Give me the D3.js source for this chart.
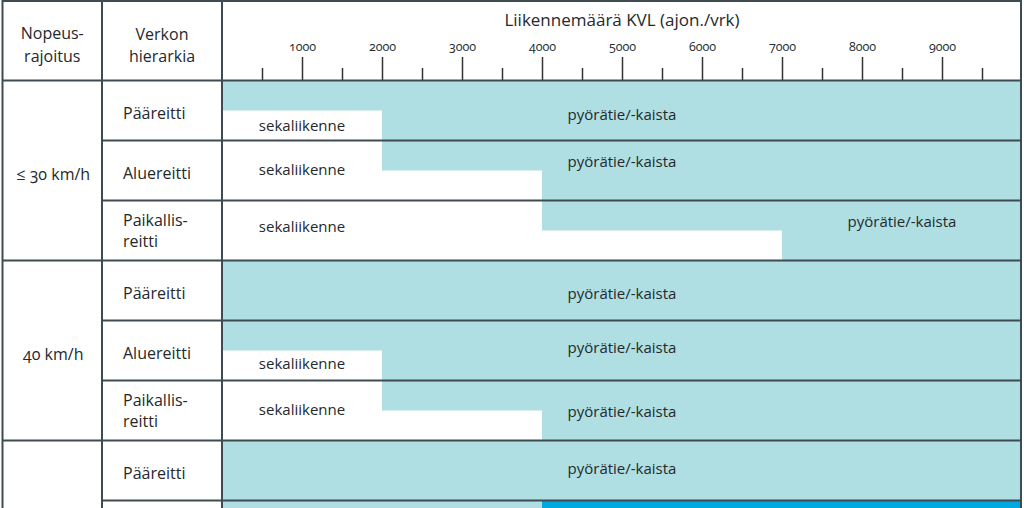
<!DOCTYPE html>
<html><head><meta charset="utf-8">
<script src="https://cdn.jsdelivr.net/npm/d3@7"></script>
<style>
body{margin:0;background:#fff}
svg{display:block;font-family:"Open Sans",sans-serif;font-feature-settings:"onum" 1;}
</style>
</head><body>
<svg id="c" width="1024" height="508"></svg>
<script>
// ---- data ----
const axisTitle = "Liikennemäärä KVL (ajon./vrk)";
const headerSpeed = ["Nopeus-", "rajoitus"];
const headerHierarchy = ["Verkon", "hierarkia"];
const speedLimits = ["≤ 30 km/h", "40 km/h", ""];
const rowSpeedIndex = [0, 0, 0, 1, 1, 1, 2, 2];
const rowHierarchy = [["Pääreitti"], ["Aluereitti"], ["Paikallis-", "reitti"],
                      ["Pääreitti"], ["Aluereitti"], ["Paikallis-", "reitti"],
                      ["Pääreitti"], [""]];
const cycleStartUpper = [0, 2000, 4000, 0, 0, 2000, 0, 0];
const cycleStartLower = [2000, 4000, 7000, 0, 2000, 4000, 0, 0];
const separatedStart = [null, null, null, null, null, null, null, 4000];
const cycleLabel = "pyörätie/-kaista";
const mixedLabel = "sekaliikenne";
const cycleLabelAt = [5000, 5000, 8500, 5000, 5000, 5000, 5000, null];
const mixedLabelAt = [1000, 1000, 1000, null, 1000, 1000, null, null];
const majorTicks = [1000, 2000, 3000, 4000, 5000, 6000, 7000, 8000, 9000];
const minorTicks = [500, 1500, 2500, 3500, 4500, 5500, 6500, 7500, 8500, 9500];
const xMax = 10000;

// ---- layout ----
const W = 1024, H = 508;
const cycleLabelDy = [35, 22, 22, 34, 28, 32, 29, 29];
const mixedLabelDy = [46, 30, 27, 0, 44, 30, 0, 0];
const colLeft = 2.5, col1 = 102, col2 = 222, colRight = 1021;
const headerBottom = 80.5, rowH = 60;
const lightFill = "#afdfe3", brightFill = "#00a8e2", lineCol = "#3e4c52", textCol = "#24292c";

const svg = d3.select("#c");
const x = d3.scaleLinear().domain([0, xMax]).range([col2, 1022]);
const nRows = rowHierarchy.length;
const y = d3.scaleLinear().domain([0, nRows]).range([headerBottom, headerBottom + nRows * rowH]);

const rows = d3.range(nRows);

// fills
const fills = svg.append("g");
rows.forEach(i => {
  const top = y(i), mid = y(i + 0.5), bot = y(i + 1);
  fills.append("rect").attr("x", x(cycleStartUpper[i])).attr("y", top)
    .attr("width", x(xMax) - x(cycleStartUpper[i])).attr("height", mid - top).attr("fill", lightFill);
  fills.append("rect").attr("x", x(cycleStartLower[i])).attr("y", mid - 0.5)
    .attr("width", x(xMax) - x(cycleStartLower[i])).attr("height", bot - mid + 0.5).attr("fill", lightFill);
  if (separatedStart[i] != null) {
    fills.append("rect").attr("x", x(separatedStart[i])).attr("y", top)
      .attr("width", x(xMax) - x(separatedStart[i])).attr("height", bot - top).attr("fill", brightFill);
  }
});

// axis ticks
const major = d3.axisTop(x).tickValues(majorTicks).tickSize(23).tickPadding(6).tickFormat(d3.format("d"));
const minor = d3.axisTop(x).tickValues(minorTicks).tickSize(12).tickFormat("");
const gMaj = svg.append("g").attr("transform", `translate(0,${headerBottom - 0.5})`).call(major);
const gMin = svg.append("g").attr("transform", `translate(0,${headerBottom - 0.5})`).call(minor);
[gMaj, gMin].forEach(g => {
  g.select(".domain").remove();
  g.selectAll(".tick line").attr("stroke", "#333").attr("stroke-width", 1.5);
});
gMaj.selectAll(".tick text").attr("font-size", 12.5).attr("fill", textCol)
  .attr("font-family", '"Open Sans",sans-serif').attr("y", -29).attr("dy", "0");

svg.append("text").attr("x", x(5000)).attr("y", 26).attr("text-anchor", "middle")
  .attr("font-size", 17).attr("fill", textCol).text(axisTitle);

// grid lines
const lines = svg.append("g").attr("stroke", lineCol).attr("stroke-width", 2);
lines.append("line").attr("x1", colLeft).attr("x2", colRight).attr("y1", 1).attr("y2", 1);
lines.append("line").attr("x1", colLeft).attr("x2", colLeft).attr("y1", 0).attr("y2", H);
lines.append("line").attr("x1", colRight).attr("x2", colRight).attr("y1", 0).attr("y2", H);
lines.append("line").attr("x1", col1).attr("x2", col1).attr("y1", 0).attr("y2", H);
lines.append("line").attr("x1", col2).attr("x2", col2).attr("y1", 0).attr("y2", H);
lines.append("line").attr("x1", colLeft).attr("x2", colRight).attr("y1", headerBottom).attr("y2", headerBottom);
rows.slice(1).forEach(i => {
  const groupStart = rowSpeedIndex[i] !== rowSpeedIndex[i - 1];
  lines.append("line").attr("x1", groupStart ? colLeft : col1).attr("x2", colRight)
    .attr("y1", y(i)).attr("y2", y(i));
});

// header texts
const txt = svg.append("g").attr("fill", textCol);
headerSpeed.forEach((t, k) => txt.append("text").attr("x", (colLeft + col1) / 2).attr("y", 39 + k * 23)
  .attr("text-anchor", "middle").attr("font-size", 16).text(t));
headerHierarchy.forEach((t, k) => txt.append("text").attr("x", (col1 + col2) / 2).attr("y", 40 + k * 22)
  .attr("text-anchor", "middle").attr("font-size", 16).text(t));

// speed group labels
speedLimits.forEach((s, g) => {
  const idx = rows.filter(i => rowSpeedIndex[i] === g);
  const cy = (y(idx[0]) + y(idx[idx.length - 1] + 1)) / 2 + 5;
  if (s && cy < H - 12) txt.append("text").attr("x", (colLeft + col1) / 2 + 1).attr("y", cy)
    .attr("text-anchor", "middle").attr("font-size", 16).attr("dominant-baseline", "middle").text(s);
});

// hierarchy labels
rows.forEach(i => {
  const lbl = rowHierarchy[i];
  const c = y(i + 0.5);
  lbl.forEach((t, k) => {
    const yy = lbl.length === 1 ? c + 4 : c - 9 + k * 21;
    if (t && yy < H - 12) txt.append("text").attr("x", 123).attr("y", yy).attr("dominant-baseline", "middle")
      .attr("font-size", 16).text(t);
  });
});

// region labels
rows.forEach(i => {
  const cy = y(i) + cycleLabelDy[i];
  if (cycleLabelAt[i] != null && cy < H - 12) txt.append("text").attr("x", x(cycleLabelAt[i])).attr("y", cy)
    .attr("text-anchor", "middle").attr("dominant-baseline", "middle").attr("font-size", 15).text(cycleLabel);
  if (mixedLabelAt[i] != null) {
    const my = y(i) + mixedLabelDy[i];
    txt.append("text").attr("x", x(mixedLabelAt[i])).attr("y", my)
      .attr("text-anchor", "middle").attr("dominant-baseline", "middle").attr("font-size", 15).text(mixedLabel);
  }
});
</script>
</body></html>
